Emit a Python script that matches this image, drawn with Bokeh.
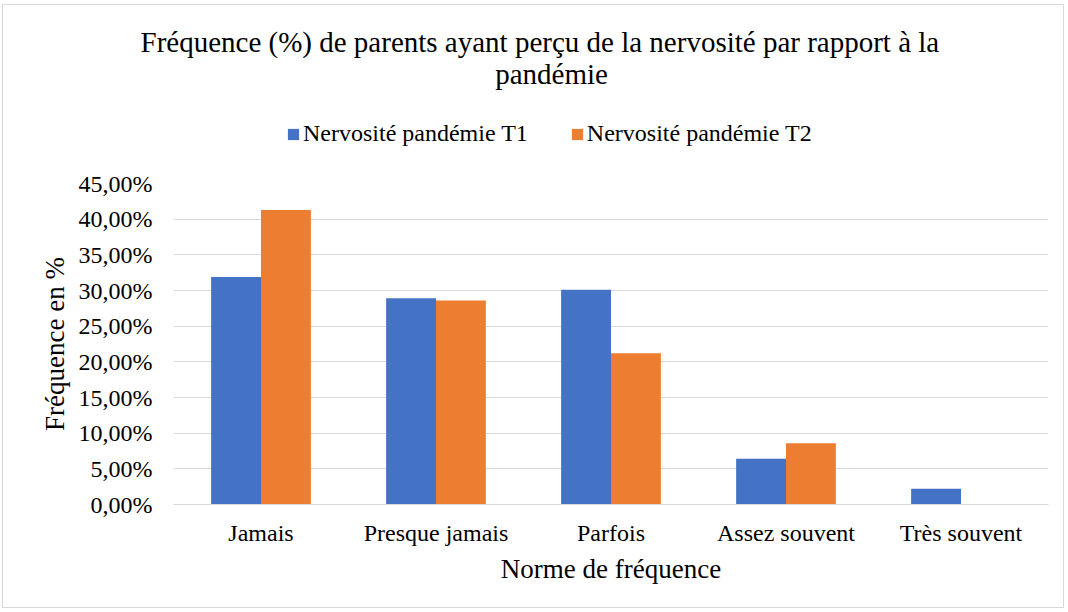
from bokeh.plotting import figure
from bokeh.layouts import column
from bokeh.models import (ColumnDataSource, Range1d, FixedTicker, CustomJSTickFormatter, Label,
                          Legend, LegendItem, Title, Spacer)
from bokeh.transform import dodge
from bokeh.embed import file_html
from bokeh.resources import INLINE

categories = ["Jamais", "Presque jamais", "Parfois", "Assez souvent", "Très souvent"]
t1_values = [31.9, 28.9, 30.1, 6.4, 2.2]
t2_values = [41.3, 28.6, 21.2, 8.6, 0.0]
series_names = ["Nervosité pandémie T1", "Nervosité pandémie T2"]
y_ticks = [0, 5, 10, 15, 20, 25, 30, 35, 40, 45]
title_lines = ["Fréquence (%) de parents ayant perçu de la nervosité par rapport à la", "pandémie"]

FONT = "Liberation Serif"
BLUE = "#4472C4"
ORANGE = "#ED7D31"
GRID = "#D9D9D9"

W = 1060
NAN = float("nan")

# ---------------- header: title and legend ----------------
head = figure(width=W, height=140, x_range=Range1d(173, 1048), y_range=Range1d(163, 57),
              x_axis_type=None, y_axis_type=None, output_backend="svg", toolbar_location=None,
              min_border_left=170, min_border_right=15, min_border_top=0, min_border_bottom=0)
head.outline_line_color = None
head.background_fill_color = "white"
head.border_fill_color = "white"
head.xgrid.visible = False
head.ygrid.visible = False

head.add_layout(Title(text=title_lines[0], align="left", offset=-33, standoff=0,
                      vertical_align="bottom", text_font=FONT, text_font_size="29px",
                      text_font_style="normal", text_color="black"), "above")
head.add_layout(Label(x=551, y=73, text=title_lines[1],
                      text_font=FONT, text_font_size="29px", text_color="black",
                      text_align="center", text_baseline="middle"))

# legend swatches (renderers with no visible geometry, used only for the legend)
h1 = head.vbar(x=[NAN], top=[NAN], width=1, fill_color=BLUE, line_color=None)
h2 = head.vbar(x=[NAN], top=[NAN], width=1, fill_color=ORANGE, line_color=None)
legend = Legend(items=[LegendItem(label=series_names[0], renderers=[h1]),
                       LegendItem(label=series_names[1], renderers=[h2])],
                orientation="horizontal", location=(113, 16),
                glyph_width=14, glyph_height=14, label_standoff=3, spacing=42,
                padding=0, margin=0, border_line_color=None, background_fill_alpha=0,
                label_text_font=FONT, label_text_font_size="24px", label_text_color="black")
head.add_layout(legend, "center")

# ---------------- chart ----------------
src = ColumnDataSource(data=dict(cat=categories, t1=t1_values, t2=t2_values))

p = figure(x_range=categories, y_range=Range1d(0, 45), width=W, height=444,
           output_backend="svg", toolbar_location=None,
           min_border_left=170, min_border_right=15, min_border_top=20, min_border_bottom=103)
p.outline_line_color = None
p.background_fill_color = "white"
p.border_fill_color = "white"

bw = 0.285
p.vbar(x=dodge("cat", -bw / 2, range=p.x_range), top="t1", width=bw, source=src,
       fill_color=BLUE, line_color=None)
p.vbar(x=dodge("cat", bw / 2, range=p.x_range), top="t2", width=bw, source=src,
       fill_color=ORANGE, line_color=None)

p.yaxis.ticker = FixedTicker(ticks=y_ticks)
p.yaxis.formatter = CustomJSTickFormatter(code="return tick.toFixed(2).replace('.', ',') + '%';")
p.yaxis.axis_line_color = None
p.yaxis.major_tick_line_color = None
p.yaxis.minor_tick_line_color = None
p.yaxis.major_label_standoff = 15
p.yaxis.major_label_text_font = FONT
p.yaxis.major_label_text_font_size = "24px"
p.yaxis.major_label_text_color = "black"
p.yaxis.axis_label = "Fréquence en %"
p.yaxis.axis_label_text_font = FONT
p.yaxis.axis_label_text_font_size = "27px"
p.yaxis.axis_label_text_font_style = "normal"
p.yaxis.axis_label_text_color = "black"
p.yaxis.axis_label_standoff = 6

p.xaxis.axis_line_color = GRID
p.xaxis.axis_line_width = 1
p.xaxis.major_tick_line_color = None
p.xaxis.minor_tick_line_color = None
p.xaxis.major_label_standoff = 9
p.xaxis.major_label_text_font = FONT
p.xaxis.major_label_text_font_size = "24px"
p.xaxis.major_label_text_color = "black"
p.xaxis.axis_label = "Norme de fréquence"
p.xaxis.axis_label_text_font = FONT
p.xaxis.axis_label_text_font_size = "27px"
p.xaxis.axis_label_text_font_style = "normal"
p.xaxis.axis_label_text_color = "black"
p.xaxis.axis_label_standoff = 5

p.xgrid.grid_line_color = None
p.ygrid.grid_line_color = GRID
p.ygrid.grid_line_width = 1

layout = column(Spacer(width=W, height=18), head, p, spacing=0)
layout.styles = {"margin-left": "3px", "margin-top": "5px", "outline": "1px solid #D9D9D9"}

open("out.html", "w").write(file_html(layout, INLINE))
